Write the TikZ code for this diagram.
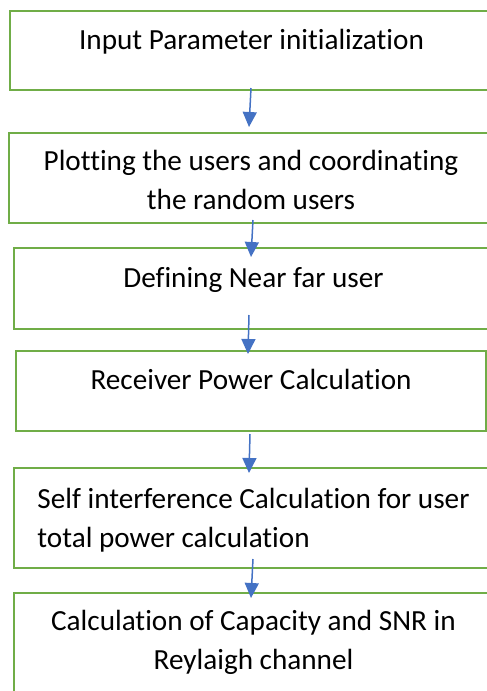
\documentclass[tikz,border=0pt]{standalone}
\usepackage{fontspec}
\setmainfont{Carlito}[Ligatures=NoCommon]
\usetikzlibrary{arrows.meta,calc}
\definecolor{boxgreen}{HTML}{70AD47}
\definecolor{flowblue}{HTML}{4472C4}
\begin{document}
\begin{tikzpicture}[x=0.5pt,y=-0.5pt,
                    stepbox/.style={draw=boxgreen,line width=1pt,anchor=north west,inner xsep=0pt,inner ysep=0pt,font=\fontsize{14.6}{19.5}\selectfont},
                    flow/.style={draw=flowblue,line width=0.75pt,-{Triangle[width=7pt,length=7.5pt]}}]
                    \path[use as bounding box,clip] (0,0) rectangle (487,691);
                    \node[stepbox,minimum width=241.5pt,text height=19pt,text depth=20.5pt] (input) at (9,10) {Input Parameter initialization};
                    \node[stepbox,minimum width=242pt,align=center,text height=38pt,text depth=7pt] (plot) at (8,132) {Plotting the users and coordinating\\the random users};
                    \node[stepbox,minimum width=239.5pt,text height=19.85pt,text depth=20.65pt] (nearfar) at (13,247) {Defining Near far user};
                    \node[stepbox,minimum width=235pt,text height=19pt,text depth=21pt] (rxpower) at (15,350) {Receiver Power Calculation};
                    \node[stepbox,minimum width=239.5pt,align=left,text height=39.5pt,text depth=10.5pt] (selfint) at (13,467) {Self interference Calculation for user\\total power calculation};
                    \node[stepbox,minimum width=239.5pt,align=center,text height=38pt,text depth=26pt] (capacity) at (13,592) {Calculation of Capacity and SNR in\\Reylaigh channel};
                    \draw[flow] ($(input.south)+(-0.5,-3)$) -- ($(plot.north)+(-2,-5)$);
                    \draw[flow] ($(plot.south)+(2,-4)$) -- ($(nearfar.north)+(-2.5,10)$);
                    \draw[flow] ($(nearfar.south)+(-4.5,-15)$) -- ($(rxpower.north)+(-3,4)$);
                    \draw[flow] ($(rxpower.south)+(-1,2)$) -- ($(selfint.north)+(-4.5,6)$);
                    \draw[flow] ($(selfint.south)+(-0.5,-10)$) -- ($(capacity.north)+(-2.5,6)$);
                \end{tikzpicture}
\end{document}
